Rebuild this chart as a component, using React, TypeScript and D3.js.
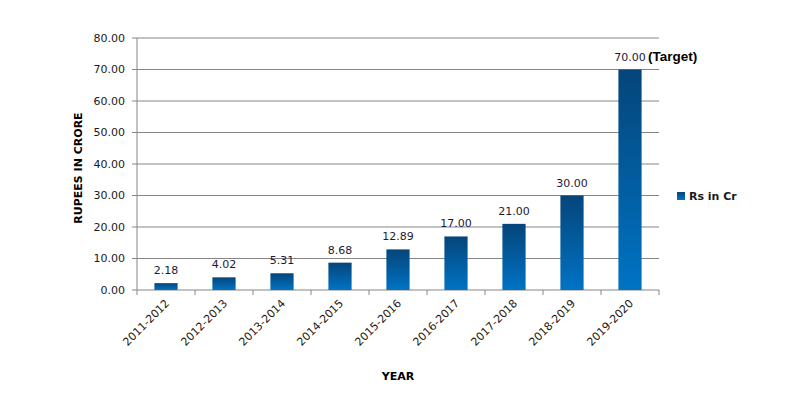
import React from "react";
import * as d3 from "d3";

const categories = ["2011-2012","2012-2013","2013-2014","2014-2015","2015-2016","2016-2017","2017-2018","2018-2019","2019-2020"];
const values = [2.18, 4.02, 5.31, 8.68, 12.89, 17.0, 21.0, 30.0, 70.0];
const labels = ["2.18","4.02","5.31","8.68","12.89","17.00","21.00","30.00","70.00"];
const yTicks = [0,10,20,30,40,50,60,70,80];
const seriesName = "Rs in Cr";

export default function App() {
  const W = 800, H = 399;
  const left = 137, right = 659, top = 38, bottom = 290;
  const x = d3.scaleBand().domain(categories).range([left, right]).paddingInner(0.6).paddingOuter(0.3);
  const xb = d3.scaleBand().domain(categories).range([left, right]);
  const y = d3.scaleLinear().domain([0, 80]).range([bottom, top]);
  const font = "'DejaVu Sans', Verdana, sans-serif";
  const axisColor = "#868686";
  return (
    <svg width={W} height={H} style={{ position: "absolute", left: 0, top: 0, background: "#fff" }} fontFamily={font}>
      <defs>
        <linearGradient id="barGrad" x1="0" y1="0" x2="0" y2="1">
          <stop offset="0%" stopColor="#05457a" />
          <stop offset="100%" stopColor="#0073c4" />
        </linearGradient>
      </defs>
      {yTicks.map(t => (
        <g key={t}>
          <line x1={left - 5} x2={right} y1={y(t)} y2={y(t)} stroke={axisColor} strokeWidth={1} />
          <text x={left - 12} y={y(t)} dy="0.35em" textAnchor="end" fontSize={11} fill="#1a1a1a">{t.toFixed(2)}</text>
        </g>
      ))}
      <line x1={left} x2={left} y1={top} y2={bottom + 5} stroke={axisColor} />
      {categories.map((c) => (
        <line key={"t" + c} x1={(xb(c) as number) + xb.bandwidth()} x2={(xb(c) as number) + xb.bandwidth()} y1={bottom} y2={bottom + 5} stroke={axisColor} />
      ))}
      {categories.map((c, i) => {
        const bx = x(c) as number;
        const bw = x.bandwidth();
        const yt = y(values[i]);
        const cx = bx + bw / 2;
        return (
          <g key={c}>
            <rect x={bx} y={yt} width={bw} height={bottom - yt} fill="url(#barGrad)" />
            <text x={cx} y={yt - 9} textAnchor="middle" fontSize={11} fill="#1a1a3a">{labels[i]}</text>
            {i === 8 && (
              <text x={cx + 18} y={yt - 9} fontSize={13.5} fontWeight="bold" fill="#000" fontFamily="'Liberation Sans', Arial, sans-serif">(Target)</text>
            )}
            <text transform={`translate(${cx + 4},${bottom + 14}) rotate(-45)`} textAnchor="end" fontSize={11} fill="#1a1a1a">{c}</text>
          </g>
        );
      })}
      <text transform={`translate(82,168) rotate(-90)`} textAnchor="middle" fontSize={11} fontWeight="bold" fill="#000">RUPEES IN CRORE</text>
      <text x={398} y={380} textAnchor="middle" fontSize={11} fontWeight="bold" fill="#000">YEAR</text>
      <rect x={677} y={192} width={8} height={8} fill="url(#barGrad)" />
      <text x={689} y={196} dy="0.35em" fontSize={11} fontWeight="bold" fill="#1a1a1a">{seriesName}</text>
    </svg>
  );
}
